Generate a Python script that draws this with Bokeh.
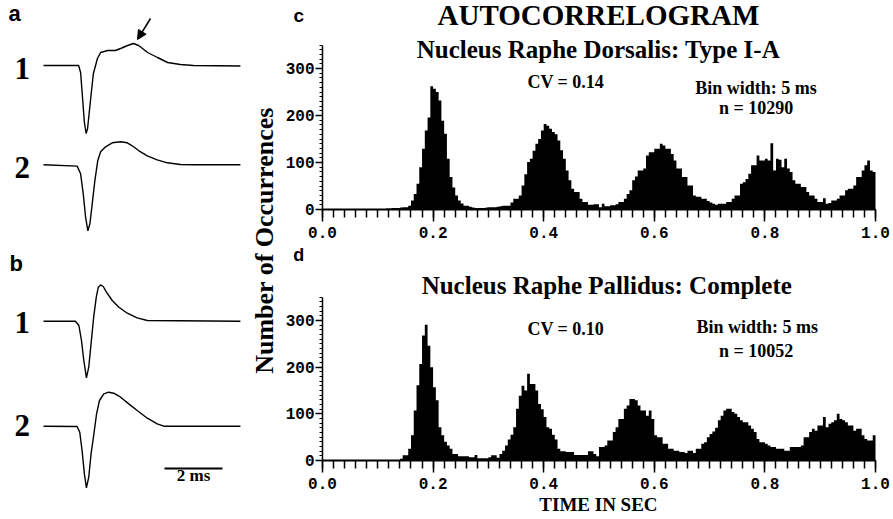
import numpy as np
from bokeh.plotting import figure
from bokeh.layouts import row, column
from bokeh.models import Range1d, FixedTicker, NumeralTickFormatter, Label, Arrow, NormalHead
from bokeh.embed import file_html
from bokeh.resources import INLINE

# ---------------- data ----------------
BIN_WIDTH = 0.005  # s
x_ticks = [0.0, 0.2, 0.4, 0.6, 0.8, 1.0]
y_ticks = [0, 100, 200, 300]

# Nucleus Raphe Dorsalis: Type I-A (200 bins of 5 ms)
dorsalis_counts = [
    0, 0, 0, 0, 0, 0, 0, 0, 0, 0,
    0, 0, 0, 0, 0, 0, 0, 0, 0, 0,
    0, 0, 0, 2, 2, 3, 3, 3, 4, 5,
    5, 8, 19, 33, 55, 90, 129, 168, 196, 262,
    257, 250, 232, 189, 161, 108, 69, 47, 30, 19,
    13, 8, 8, 6, 4, 3, 3, 3, 3, 4,
    5, 5, 5, 6, 7, 8, 8, 8, 15, 23,
    23, 30, 51, 75, 101, 108, 125, 140, 150, 168,
    182, 178, 172, 165, 160, 147, 126, 108, 83, 62,
    44, 37, 37, 23, 16, 16, 10, 10, 11, 11,
    5, 12, 7, 7, 9, 9, 11, 16, 16, 23,
    33, 41, 62, 70, 83, 83, 87, 115, 122, 122,
    129, 129, 140, 136, 129, 129, 118, 104, 87, 87,
    69, 69, 51, 51, 30, 27, 27, 23, 23, 18,
    15, 12, 10, 12, 12, 12, 16, 16, 23, 30,
    30, 55, 58, 65, 76, 94, 94, 115, 104, 104,
    108, 104, 141, 83, 108, 106, 90, 108, 87, 80,
    62, 55, 55, 48, 48, 37, 30, 30, 23, 16,
    16, 24, 12, 14, 19, 19, 23, 30, 30, 41,
    44, 44, 51, 69, 69, 83, 94, 104, 83, 80,
]

# Nucleus Raphe Pallidus: Complete (200 bins of 5 ms)
pallidus_counts = [
    0, 0, 0, 0, 0, 0, 0, 0, 0, 0,
    0, 0, 0, 0, 0, 0, 0, 0, 0, 0,
    0, 0, 0, 0, 0, 0, 0, 0, 4, 11,
    11, 25, 54, 107, 161, 207, 268, 291, 246, 200,
    157, 129, 71, 54, 40, 32, 25, 14, 14, 9,
    9, 9, 9, 7, 7, 12, 5, 5, 5, 5,
    7, 11, 11, 6, 14, 21, 32, 45, 55, 71,
    111, 139, 160, 150, 186, 164, 164, 150, 121, 110,
    93, 71, 68, 55, 45, 25, 20, 20, 18, 18,
    18, 12, 12, 12, 12, 12, 20, 20, 14, 9,
    29, 29, 32, 43, 43, 61, 71, 89, 89, 111,
    118, 132, 132, 129, 118, 107, 107, 96, 107, 89,
    54, 50, 50, 36, 36, 25, 25, 21, 21, 18,
    18, 16, 21, 21, 16, 25, 25, 36, 39, 50,
    57, 62, 70, 86, 96, 107, 111, 111, 104, 100,
    93, 86, 82, 82, 75, 68, 61, 46, 39, 39,
    36, 32, 29, 29, 25, 25, 25, 21, 21, 29,
    29, 29, 29, 32, 50, 50, 61, 68, 64, 75,
    75, 93, 71, 79, 82, 86, 100, 89, 86, 82,
    75, 75, 64, 68, 68, 54, 46, 43, 43, 54,
]

# spike waveforms: time (ms) and amplitude (arbitrary units, up = positive)
a1_t = [0.00, 1.21, 1.28, 1.34, 1.41, 1.47, 1.52, 1.62, 1.72, 1.86, 1.97, 2.21, 2.48, 2.66,
        2.90, 3.10, 3.28, 3.59, 3.93, 4.28, 4.72, 5.17, 6.79]
a1_v = [0, 0, -7, -30, -57, -68, -63, -35, -8, 7, 13, 15, 15, 17,
        20, 22, 20, 13, 8, 3, 1, 0, -0.5]
a2_t = [0.00, 1.16, 1.28, 1.37, 1.45, 1.53, 1.60, 1.68, 1.77, 1.87, 1.97, 2.14, 2.37, 2.66,
        2.89, 3.06, 3.29, 3.58, 3.92, 4.27, 4.72, 5.18, 6.79]
a2_v = [0, -1.3, -9, -29, -52, -66, -59, -39, -16, 4, 13, 18, 22, 23,
        22, 19, 14, 9, 5, 2, 0.3, 0, 0]
b1_t = [0.00, 1.10, 1.22, 1.31, 1.39, 1.48, 1.56, 1.64, 1.73, 1.82, 1.89, 1.97, 2.06, 2.17,
        2.37, 2.60, 2.89, 3.23, 3.58, 6.79]
b1_v = [0, 0, -4.3, -19.3, -39.3, -56.7, -46, -22.7, 4, 24, 34, 36.3, 34.7, 29,
        20.7, 14, 8, 3.3, 0.7, 0]
b2_t = [0.00, 1.16, 1.25, 1.33, 1.41, 1.48, 1.56, 1.64, 1.73, 1.83, 1.93, 2.08, 2.25, 2.42,
        2.66, 2.94, 3.23, 3.58, 3.92, 4.15, 6.79]
b2_v = [0, -0.3, -6, -24.3, -47.7, -61.7, -51, -27.7, -9.3, 12.3, 25.7, 32.3, 34, 33,
        29, 22.3, 15.7, 8, 2.3, 0, 0]
scale_bar_ms = 2

# ---------------- layout constants ----------------
SERIF = "Liberation Serif"
SANS = "Liberation Sans"
MONO = "Liberation Mono"
PX_PER_MS = 29.0
LEFT_W = 280
RIGHT_W = 893 - LEFT_W
C_H = 246
D_H = 519 - C_H
PX_PER_SEC = 553.0
AXIS_GAP = 42          # px between right-column edge and time 0

# ---------------- left panel (waveforms) ----------------
left = figure(width=LEFT_W, height=519,
              x_range=Range1d(-43 / PX_PER_MS, (LEFT_W - 43) / PX_PER_MS),
              y_range=Range1d(-519, 0),
              x_axis_location=None, y_axis_location=None,
              output_backend="svg", toolbar_location=None,
              min_border=0)
left.grid.visible = False
left.outline_line_color = None

traces = [(a1_t, a1_v, -65.0), (a2_t, a2_v, -164.3), (b1_t, b1_v, -320.7), (b2_t, b2_v, -425.7)]
for t, v, base in traces:
    left.line(t, np.array(v) + base, line_color="black", line_width=1.4)

# scale bar
sb_x0 = (164 - 43) / PX_PER_MS
left.line([sb_x0, sb_x0 + scale_bar_ms], [-468, -468], line_color="black", line_width=2)
left.add_layout(Label(x=sb_x0 + scale_bar_ms / 2, y=-484, text=f"{scale_bar_ms} ms",
                      text_align="center", text_font=SERIF, text_font_size="17px",
                      text_font_style="bold", text_color="black"))

# arrow pointing at the hump in a1
left.add_layout(Arrow(end=NormalHead(size=9, fill_color="black", line_color="black"),
                      x_start=(150 - 43) / PX_PER_MS, y_start=-18,
                      x_end=(137 - 43) / PX_PER_MS, y_end=-39,
                      line_color="black", line_width=1.5))

for txt, xpx, base in [("a", 8, -25), ("b", 9, -275)]:
    left.add_layout(Label(x=(xpx - 43) / PX_PER_MS, y=base, text=txt, text_font=SANS,
                          text_font_style="bold", text_font_size="22px", text_color="black"))
for txt, base in [("1", -78), ("2", -177), ("1", -332), ("2", -435)]:
    left.add_layout(Label(x=(14 - 43) / PX_PER_MS, y=base, text=txt, text_font=SERIF,
                          text_font_style="bold", text_font_size="31px", text_color="black"))

left.add_layout(Label(x=(264 - 43) / PX_PER_MS, y=-240, text="Number of Occurrences",
                      angle=np.pi / 2, text_align="center", text_baseline="middle",
                      text_font=SERIF, text_font_style="bold", text_font_size="26px",
                      text_color="black"))

# ---------------- histograms ----------------
edges = np.arange(len(dorsalis_counts) + 1) * BIN_WIDTH
x_start = -AXIS_GAP / PX_PER_SEC
x_end = (RIGHT_W - AXIS_GAP) / PX_PER_SEC


def hist_fig(counts, height, zero_from_top, px_per_count):
    below = height - zero_from_top
    p = figure(width=RIGHT_W, height=height,
               x_range=Range1d(x_start, x_end),
               y_range=Range1d(-below / px_per_count, zero_from_top / px_per_count),
               output_backend="svg", toolbar_location=None,
               min_border=0)
    p.grid.visible = False
    p.outline_line_color = None
    p.varea_step(x=edges, y1=0, y2=list(counts) + [counts[-1]], step_mode="after",
                 fill_color="black")

    xa = p.xaxis[0]
    xa.fixed_location = 0
    xa.ticker = FixedTicker(ticks=x_ticks, minor_ticks=[round(0.02 * k, 2) for k in range(51)])
    xa.formatter = NumeralTickFormatter(format="0.0")
    xa.bounds = (0, 1.0)
    xa.axis_line_width = 2
    xa.axis_line_color = "black"
    xa.major_tick_in = 0
    xa.major_tick_out = 12
    xa.minor_tick_in = 0
    xa.minor_tick_out = 8
    xa.major_tick_line_width = 1.5
    xa.minor_tick_line_width = 1.5
    xa.major_tick_line_color = "black"
    xa.minor_tick_line_color = "black"
    xa.major_label_text_font = MONO
    xa.major_label_text_font_style = "bold"
    xa.major_label_text_font_size = "16px"
    xa.major_label_text_color = "black"
    xa.major_label_standoff = 5

    ya = p.yaxis[0]
    ya.fixed_location = 0
    ya.ticker = FixedTicker(ticks=y_ticks, minor_ticks=list(range(0, 351, 10)))
    ya.bounds = (0, 350)
    ya.axis_line_width = 1.5
    ya.axis_line_color = "black"
    ya.major_tick_in = 0
    ya.major_tick_out = 7
    ya.minor_tick_in = 0
    ya.minor_tick_out = 3
    ya.major_tick_line_width = 1.5
    ya.minor_tick_line_width = 1
    ya.major_tick_line_color = "black"
    ya.minor_tick_line_color = "black"
    ya.major_label_text_font = MONO
    ya.major_label_text_font_style = "bold"
    ya.major_label_text_font_size = "16px"
    ya.major_label_text_color = "black"
    ya.major_label_standoff = 1
    return p


c = hist_fig(dorsalis_counts, C_H, 209, 0.47)
d = hist_fig(pallidus_counts, D_H, 460 - C_H, 0.4667)


def lab(p, x, y, text, size, font=SERIF, align="center"):
    p.add_layout(Label(x=x, y=y, text=text, text_align=align, text_font=font,
                       text_font_style="bold", text_font_size=size, text_color="black"))


lab(c, 0.499, 380, "AUTOCORRELOGRAM", "29px")
lab(c, 0.499, 311, "Nucleus Raphe Dorsalis: Type I-A", "25px")
lab(c, 0.44, 250, "CV = 0.14", "18px")
lab(c, 0.784, 238, "Bin width: 5 ms", "18px")
lab(c, 0.784, 194, "n = 10290", "18px")
lab(c, -0.043, 391, "c", "19px", font=SANS)

lab(d, 0.514, 347, "Nucleus Raphe Pallidus: Complete", "25px")
lab(d, 0.44, 261, "CV = 0.10", "18px")
lab(d, 0.786, 264, "Bin width: 5 ms", "18px")
lab(d, 0.784, 214, "n = 10052", "18px")
lab(d, -0.043, 418, "d", "18px", font=SANS)
lab(d, 0.499, -116, "TIME IN SEC", "19px")

layout = row(left, column(c, d))
open("out.html", "w").write(file_html(layout, INLINE))
